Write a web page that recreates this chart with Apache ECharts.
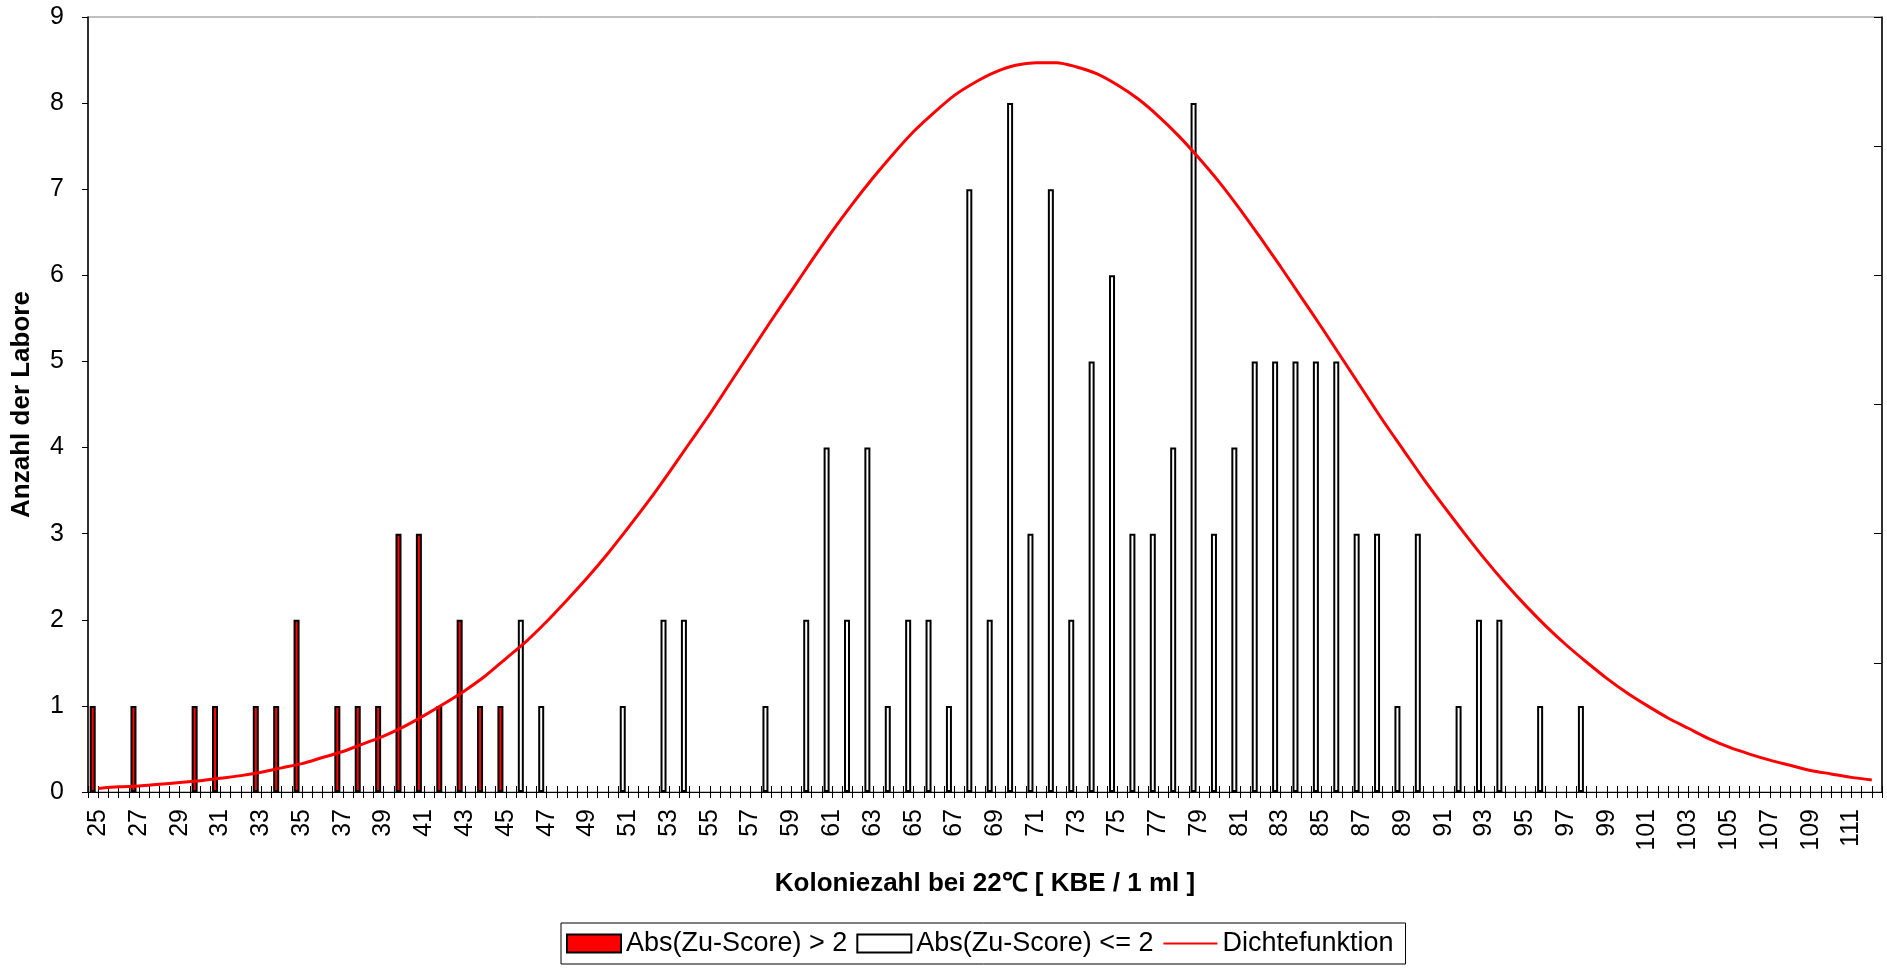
<!DOCTYPE html>
<html>
<head>
<meta charset="utf-8">
<script src="https://cdn.jsdelivr.net/npm/echarts@6/dist/echarts.min.js"></script>
<style>html,body{margin:0;padding:0;background:#fff}#c{width:1887px;height:968px}</style>
</head>
<body>
<div id="c"></div>
<script>
const categories = [25,26,27,28,29,30,31,32,33,34,35,36,37,38,39,40,41,42,43,44,45,46,47,48,49,50,51,52,53,54,55,56,57,58,59,60,61,62,63,64,65,66,67,68,69,70,71,72,73,74,75,76,77,78,79,80,81,82,83,84,85,86,87,88,89,90,91,92,93,94,95,96,97,98,99,100,101,102,103,104,105,106,107,108,109,110,111,112];
const redX = [25,27,30,31,33,34,35,37,38,39,40,41,42,43,44,45];
const redY = [1,1,1,1,1,1,2,1,1,1,3,3,1,2,1,1];
const whiteX = [46,47,51,53,54,58,60,61,62,63,64,65,66,67,68,69,70,71,72,73,74,75,76,77,78,79,80,81,82,83,84,85,86,87,88,89,90,92,93,94,96,98];
const whiteY = [2,1,1,2,2,1,2,4,2,4,1,2,2,1,7,2,8,3,7,2,5,6,3,3,4,8,3,4,5,5,5,5,5,3,3,1,3,1,2,2,1,1];
const density = [0.04,0.06,0.07,0.09,0.11,0.13,0.16,0.19,0.23,0.28,0.33,0.40,0.47,0.56,0.65,0.76,0.89,1.03,1.18,1.35,1.55,1.75,1.98,2.23,2.49,2.77,3.07,3.38,3.71,4.05,4.39,4.75,5.11,5.47,5.82,6.17,6.51,6.83,7.13,7.41,7.67,7.89,8.09,8.24,8.36,8.44,8.47,8.47,8.42,8.34,8.21,8.05,7.85,7.62,7.36,7.08,6.77,6.44,6.10,5.75,5.40,5.04,4.68,4.32,3.98,3.64,3.32,3.01,2.71,2.43,2.17,1.93,1.71,1.51,1.32,1.15,1.00,0.86,0.74,0.62,0.52,0.44,0.37,0.31,0.25,0.21,0.17,0.14];
const yTicks = [0,1,2,3,4,5,6,7,8,9];

const FONT = '"Liberation Sans", Arial, sans-serif';
function fill(xs, ys){ return categories.map(c => { const k = xs.indexOf(c); return k >= 0 ? ys[k] : null; }); }

const chart = echarts.init(document.getElementById('c'), null, {renderer:'canvas'});
const tickAxisBase = {type:'value', gridIndex:0, position:'bottom', min:0, max:categories.length*2, interval:1,
  axisLine:{show:false, onZero:false}, axisLabel:{show:false}, splitLine:{show:false}};
chart.setOption({
  animation:false,
  backgroundColor:'#ffffff',
  textStyle:{fontFamily:FONT, color:'#000'},
  grid:{left:88, right:5, top:17, bottom:176, show:true, borderColor:'#808080', borderWidth:1,
        containLabel:false, outerBoundsMode:'none'},
  legend:{
    data:[
      {name:'Abs(Zu-Score) > 2', icon:'rect'},
      {name:'Abs(Zu-Score) <= 2', icon:'rect'},
      {name:'Dichtefunktion', itemStyle:{opacity:0}}
    ],
    left:561, top:923, orient:'horizontal',
    itemWidth:54, itemHeight:18, itemGap:9,
    padding:[7,12,7,5], borderColor:'#000', borderWidth:1,
    textStyle:{fontFamily:FONT, fontSize:27, color:'#000'}
  },
  xAxis:[
    {type:'category', data:categories, boundaryGap:true,
     name:'Koloniezahl bei 22\u2103 [ KBE / 1 ml ]', nameLocation:'middle', nameGap:79, nameMoveOverlap:false,
     nameTextStyle:{fontFamily:FONT, fontSize:26, fontWeight:'bold', color:'#000'},
     axisLine:{show:true, onZero:false, lineStyle:{color:'#000', width:1}},
     axisTick:{show:false},
     axisLabel:{interval:1, rotate:90, fontSize:25, color:'#000', margin:17, fontFamily:FONT},
     splitLine:{show:false}},
    Object.assign({}, tickAxisBase, {axisTick:{show:true, inside:true, length:6, lineStyle:{color:'#000', width:1}}}),
    Object.assign({}, tickAxisBase, {axisTick:{show:true, inside:false, length:6, lineStyle:{color:'#000', width:1}}})
  ],
  yAxis:[
    {type:'value', min:0, max:9, interval:1, position:'left',
     name:'Anzahl der Labore', nameLocation:'middle', nameGap:53, nameRotate:90, nameMoveOverlap:false,
     nameTextStyle:{fontFamily:FONT, fontSize:26, fontWeight:'bold', color:'#000'},
     axisLine:{show:true, onZero:false, lineStyle:{color:'#000', width:1.5}},
     axisTick:{show:true, inside:false, length:6, lineStyle:{color:'#000'}},
     axisLabel:{fontSize:25, color:'#000', margin:24, fontFamily:FONT,
       formatter:function(v){ return yTicks.indexOf(v) >= 0 ? String(v) : ''; }},
     splitLine:{show:false}},
    {type:'value', position:'right', min:0, max:6, interval:1,
     axisLine:{show:true, onZero:false, lineStyle:{color:'#000', width:1.5}},
     axisTick:{show:true, inside:true, length:8, lineStyle:{color:'#000'}},
     axisLabel:{show:false}, splitLine:{show:false}}
  ],
  series:[
    {name:'Abs(Zu-Score) > 2', type:'bar', stack:'cnt', xAxisIndex:0, yAxisIndex:0,
     data:fill(redX, redY), barWidth:6, barGap:'83%',
     itemStyle:{color:'#FF0000', borderColor:'#000', borderWidth:2}},
    {name:'Abs(Zu-Score) <= 2', type:'bar', stack:'cnt', xAxisIndex:0, yAxisIndex:0,
     data:fill(whiteX, whiteY), barWidth:6, barGap:'83%',
     itemStyle:{color:'#FFFFFF', borderColor:'#000', borderWidth:2}},
    {name:'', type:'bar', stack:'pad', xAxisIndex:0, yAxisIndex:0,
     data:categories.map(() => null), barWidth:6, barGap:'83%', silent:true},
    {name:'Dichtefunktion', type:'line', xAxisIndex:0, yAxisIndex:0,
     data:density, symbol:'none', smooth:0.3, z:5,
     lineStyle:{color:'#FF0000', width:3}, itemStyle:{color:'#FF0000'}}
  ]
});
</script>
</body>
</html>
